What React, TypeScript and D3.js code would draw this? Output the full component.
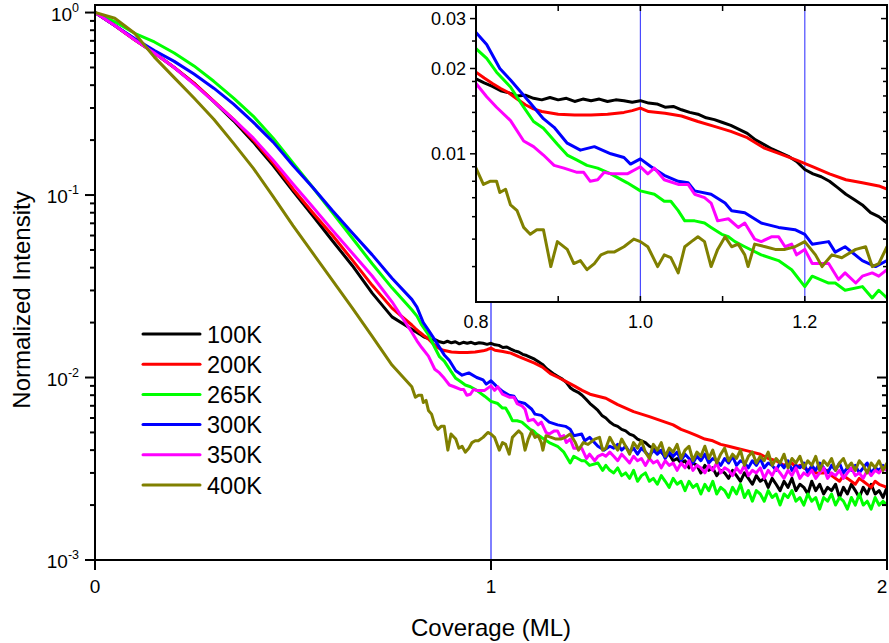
import React from 'react';
import * as d3 from 'd3';

type Pt = [number, number];

const seriesNames = ['100K', '200K', '265K', '300K', '350K', '400K'];
const seriesColors = ['#000000', '#ff0000', '#00ff00', '#0000ff', '#ff00ff', '#808000'];

const s100K: Pt[] = [
  [0, 1], [0.05, 0.85], [0.1, 0.71], [0.15, 0.6], [0.2, 0.5], [0.25, 0.41], [0.3, 0.325], [0.35, 0.255], [0.4, 0.195], [0.45, 0.145], [0.5, 0.105], [0.55, 0.077], [0.6, 0.056], [0.65, 0.041], [0.7, 0.029], [0.75, 0.0215],
  [0.8, 0.0184], [0.81, 0.0178], [0.82, 0.0173], [0.83, 0.0167], [0.84, 0.0164], [0.85, 0.016], [0.86, 0.0161], [0.87, 0.0157], [0.88, 0.0155], [0.89, 0.0158], [0.9, 0.0155], [0.91, 0.0157], [0.92, 0.0153], [0.93, 0.0156], [0.94, 0.0154], [0.95, 0.0156], [0.96, 0.0153], [0.97, 0.0155], [0.98, 0.0154], [0.99, 0.0152], [1.0, 0.0154], [1.01, 0.0151], [1.02, 0.015], [1.03, 0.0146], [1.04, 0.0147], [1.05, 0.0143], [1.06, 0.014], [1.07, 0.0138], [1.08, 0.0134], [1.09, 0.0132], [1.1, 0.0129], [1.11, 0.0126], [1.12, 0.0122], [1.13, 0.0118], [1.14, 0.0112], [1.15, 0.0108], [1.16, 0.0104], [1.17, 0.0101], [1.18, 0.0098], [1.19, 0.0094], [1.2, 0.0088], [1.21, 0.0085], [1.22, 0.0083], [1.23, 0.008], [1.24, 0.0076], [1.25, 0.0072], [1.26, 0.0069], [1.27, 0.0066], [1.28, 0.0062], [1.29, 0.006], [1.3, 0.0057],
  [1.31, 0.0055], [1.32, 0.0054], [1.33, 0.0052], [1.34, 0.0051], [1.35, 0.0049], [1.36, 0.0048], [1.37, 0.0046], [1.38, 0.0045], [1.39, 0.0044], [1.4, 0.0042], [1.41, 0.0041], [1.42, 0.004], [1.43, 0.0039], [1.44, 0.0037], [1.45, 0.0038], [1.46, 0.0035], [1.47, 0.0036], [1.48, 0.0034], [1.49, 0.0035], [1.5, 0.0032], [1.51, 0.0034], [1.52, 0.0033], [1.53, 0.003], [1.54, 0.0033], [1.55, 0.0031], [1.56, 0.0032], [1.57, 0.0029], [1.58, 0.0031], [1.59, 0.003], [1.6, 0.0028], [1.61, 0.0031], [1.62, 0.0029], [1.63, 0.0027], [1.64, 0.003], [1.65, 0.0028], [1.66, 0.0026], [1.67, 0.0029], [1.68, 0.0027], [1.69, 0.0028], [1.7, 0.0025], [1.71, 0.0028], [1.72, 0.0026], [1.73, 0.0024], [1.74, 0.0027], [1.75, 0.0025], [1.76, 0.0028], [1.77, 0.0024], [1.78, 0.0026], [1.79, 0.0025], [1.8, 0.0023], [1.81, 0.0027], [1.82, 0.0024], [1.83, 0.0026], [1.84, 0.0023], [1.85, 0.0025], [1.86, 0.0024], [1.87, 0.0026], [1.88, 0.0022], [1.89, 0.0025], [1.9, 0.0023], [1.91, 0.0026], [1.92, 0.0024], [1.93, 0.0022], [1.94, 0.0025], [1.95, 0.0023], [1.96, 0.0026], [1.97, 0.0023], [1.98, 0.0024], [1.99, 0.0022], [2.0, 0.0025],
];

const s200K: Pt[] = [
  [0, 1], [0.05, 0.85], [0.1, 0.71], [0.15, 0.6], [0.2, 0.5], [0.25, 0.41], [0.3, 0.327], [0.35, 0.26], [0.4, 0.2], [0.45, 0.15], [0.5, 0.108], [0.55, 0.08], [0.6, 0.06], [0.65, 0.044], [0.7, 0.032], [0.75, 0.024],
  [0.8, 0.0194], [0.81, 0.0185], [0.82, 0.0177], [0.83, 0.017], [0.84, 0.0164], [0.85, 0.0156], [0.86, 0.0149], [0.87, 0.0144], [0.88, 0.0141], [0.9, 0.0138], [0.92, 0.0137], [0.94, 0.0137], [0.96, 0.0138], [0.98, 0.014], [0.99, 0.0142], [1.0, 0.0145], [1.01, 0.0141], [1.03, 0.0139], [1.05, 0.0136], [1.07, 0.013], [1.09, 0.0125], [1.11, 0.012], [1.13, 0.0114], [1.15, 0.0105], [1.17, 0.01], [1.19, 0.0095], [1.21, 0.009], [1.23, 0.0085], [1.25, 0.0081], [1.27, 0.0079], [1.29, 0.0077], [1.3, 0.0075],
  [1.32, 0.0071], [1.34, 0.0068], [1.36, 0.0065], [1.38, 0.0063], [1.4, 0.0061], [1.42, 0.0059], [1.44, 0.0057], [1.46, 0.0055], [1.48, 0.0052], [1.5, 0.005], [1.52, 0.0048], [1.54, 0.0046], [1.56, 0.0045], [1.58, 0.0043], [1.6, 0.0042], [1.62, 0.0041], [1.64, 0.004], [1.66, 0.0039], [1.68, 0.0038], [1.7, 0.0036], [1.72, 0.0035], [1.74, 0.0033], [1.76, 0.0034], [1.77, 0.0032], [1.78, 0.0033], [1.8, 0.0031], [1.81, 0.0032], [1.82, 0.003], [1.84, 0.003], [1.85, 0.0031], [1.86, 0.0029], [1.88, 0.0027], [1.89, 0.0029], [1.9, 0.0028], [1.92, 0.0026], [1.93, 0.0028], [1.94, 0.0027], [1.96, 0.0025], [1.97, 0.0027], [1.98, 0.0026], [2.0, 0.0025],
];

const s265K: Pt[] = [
  [0, 1], [0.05, 0.89], [0.1, 0.77], [0.15, 0.69], [0.2, 0.6], [0.25, 0.51], [0.3, 0.42], [0.35, 0.34], [0.4, 0.27], [0.45, 0.205], [0.5, 0.15], [0.55, 0.11], [0.6, 0.08], [0.65, 0.058], [0.7, 0.042], [0.75, 0.031],
  [0.8, 0.0235], [0.813, 0.0217], [0.825, 0.0194], [0.842, 0.0172], [0.858, 0.0146], [0.87, 0.013], [0.882, 0.0123], [0.899, 0.0108], [0.911, 0.0099], [0.923, 0.0095], [0.935, 0.0091], [0.948, 0.0089], [0.964, 0.0085], [0.984, 0.0079], [1.0, 0.0074], [1.017, 0.0072], [1.029, 0.0068], [1.037, 0.0068], [1.046, 0.0063], [1.054, 0.0058], [1.066, 0.0058], [1.078, 0.0057], [1.086, 0.0055], [1.099, 0.0052], [1.107, 0.0051], [1.115, 0.0049], [1.127, 0.0047], [1.147, 0.0044], [1.168, 0.0042], [1.184, 0.0039], [1.2, 0.0034], [1.209, 0.0037], [1.229, 0.0035], [1.237, 0.0035], [1.249, 0.0033], [1.27, 0.0034], [1.282, 0.0031], [1.29, 0.0033], [1.3, 0.0031],
  [1.31, 0.003], [1.32, 0.0032], [1.33, 0.0029], [1.34, 0.003], [1.35, 0.0028], [1.36, 0.0031], [1.37, 0.0027], [1.38, 0.0029], [1.39, 0.003], [1.4, 0.0027], [1.41, 0.0028], [1.42, 0.0026], [1.43, 0.0029], [1.44, 0.0027], [1.45, 0.0025], [1.46, 0.0028], [1.47, 0.0026], [1.48, 0.0027], [1.49, 0.0024], [1.5, 0.0027], [1.51, 0.0025], [1.52, 0.0026], [1.53, 0.0023], [1.54, 0.0026], [1.55, 0.0024], [1.56, 0.0027], [1.57, 0.0023], [1.58, 0.0025], [1.59, 0.0024], [1.6, 0.0022], [1.61, 0.0025], [1.62, 0.0023], [1.63, 0.0026], [1.64, 0.0022], [1.65, 0.0024], [1.66, 0.0021], [1.67, 0.0024], [1.68, 0.0023], [1.69, 0.0021], [1.7, 0.0024], [1.71, 0.0022], [1.72, 0.0023], [1.73, 0.002], [1.74, 0.0023], [1.75, 0.0022], [1.76, 0.0024], [1.77, 0.0021], [1.78, 0.0022], [1.79, 0.002], [1.8, 0.0023], [1.81, 0.0021], [1.82, 0.0022], [1.83, 0.0019], [1.84, 0.0022], [1.85, 0.0021], [1.86, 0.0023], [1.87, 0.002], [1.88, 0.0022], [1.89, 0.0021], [1.9, 0.0019], [1.91, 0.0022], [1.92, 0.002], [1.93, 0.0023], [1.94, 0.002], [1.95, 0.0021], [1.96, 0.0019], [1.97, 0.0022], [1.98, 0.002], [1.99, 0.0021], [2.0, 0.002],
];

const s300K: Pt[] = [
  [0, 1], [0.05, 0.85], [0.1, 0.72], [0.15, 0.62], [0.2, 0.54], [0.25, 0.46], [0.3, 0.385], [0.35, 0.315], [0.4, 0.25], [0.45, 0.195], [0.5, 0.145], [0.55, 0.11], [0.6, 0.082], [0.65, 0.062], [0.7, 0.047], [0.75, 0.035],
  [0.8, 0.0268], [0.813, 0.0243], [0.829, 0.02], [0.842, 0.0182], [0.854, 0.0166], [0.866, 0.0151], [0.882, 0.0133], [0.895, 0.0124], [0.911, 0.0109], [0.927, 0.0103], [0.944, 0.0106], [0.964, 0.01], [0.98, 0.0097], [0.988, 0.0092], [1.0, 0.0096], [1.013, 0.009], [1.029, 0.0084], [1.046, 0.008], [1.058, 0.0079], [1.066, 0.0074], [1.086, 0.0072], [1.103, 0.0067], [1.111, 0.0063], [1.127, 0.0062], [1.147, 0.0057], [1.168, 0.0055], [1.188, 0.0054], [1.2, 0.0052], [1.209, 0.0048], [1.229, 0.0049], [1.237, 0.0045], [1.249, 0.0047], [1.27, 0.0042], [1.286, 0.004], [1.3, 0.0042],
  [1.31, 0.0041], [1.32, 0.0043], [1.33, 0.004], [1.34, 0.0042], [1.35, 0.0039], [1.36, 0.0041], [1.37, 0.0038], [1.38, 0.0041], [1.39, 0.0039], [1.4, 0.0037], [1.41, 0.004], [1.42, 0.0038], [1.43, 0.004], [1.44, 0.0036], [1.45, 0.0039], [1.46, 0.0037], [1.47, 0.0039], [1.48, 0.0035], [1.49, 0.0038], [1.5, 0.0036], [1.51, 0.0034], [1.52, 0.0037], [1.53, 0.0035], [1.54, 0.0038], [1.55, 0.0034], [1.56, 0.0036], [1.57, 0.0035], [1.58, 0.0033], [1.59, 0.0036], [1.6, 0.0034], [1.61, 0.0037], [1.62, 0.0033], [1.63, 0.0035], [1.64, 0.0034], [1.65, 0.0032], [1.66, 0.0035], [1.67, 0.0033], [1.68, 0.0036], [1.69, 0.0032], [1.7, 0.0034], [1.71, 0.0033], [1.72, 0.0031], [1.73, 0.0034], [1.74, 0.0032], [1.75, 0.0035], [1.76, 0.0031], [1.77, 0.0033], [1.78, 0.0032], [1.79, 0.0034], [1.8, 0.003], [1.81, 0.0033], [1.82, 0.0031], [1.83, 0.0034], [1.84, 0.0032], [1.85, 0.003], [1.86, 0.0033], [1.87, 0.0031], [1.88, 0.0034], [1.89, 0.003], [1.9, 0.0032], [1.91, 0.0031], [1.92, 0.0033], [1.93, 0.003], [1.94, 0.0032], [1.95, 0.0034], [1.96, 0.003], [1.97, 0.0032], [1.98, 0.0031], [1.99, 0.0033], [2.0, 0.0031],
];

const s350K: Pt[] = [
  [0, 1], [0.05, 0.85], [0.1, 0.71], [0.15, 0.6], [0.2, 0.5], [0.25, 0.405], [0.3, 0.325], [0.35, 0.26], [0.4, 0.205], [0.45, 0.155], [0.5, 0.115], [0.55, 0.086], [0.6, 0.064], [0.65, 0.048], [0.7, 0.036], [0.75, 0.026],
  [0.8, 0.0177], [0.813, 0.0159], [0.825, 0.0146], [0.842, 0.0131], [0.858, 0.0111], [0.87, 0.0106], [0.882, 0.0099], [0.895, 0.0091], [0.907, 0.0089], [0.923, 0.0086], [0.931, 0.0086], [0.939, 0.008], [0.948, 0.0081], [0.956, 0.0086], [0.964, 0.0085], [0.984, 0.0085], [1.0, 0.009], [1.009, 0.0085], [1.017, 0.0089], [1.029, 0.0081], [1.046, 0.0078], [1.058, 0.0078], [1.066, 0.0072], [1.078, 0.007], [1.086, 0.0067], [1.094, 0.0058], [1.107, 0.0059], [1.119, 0.0055], [1.127, 0.0057], [1.139, 0.005], [1.147, 0.0049], [1.16, 0.0051], [1.168, 0.0051], [1.176, 0.0047], [1.184, 0.0048], [1.19, 0.0044], [1.2, 0.0046], [1.209, 0.0041], [1.221, 0.0041], [1.229, 0.0041], [1.241, 0.0036], [1.249, 0.0038], [1.262, 0.0035], [1.27, 0.0037], [1.282, 0.0038], [1.29, 0.0037], [1.3, 0.0039],
  [1.31, 0.0037], [1.32, 0.0035], [1.33, 0.0038], [1.34, 0.0036], [1.35, 0.0034], [1.36, 0.0037], [1.37, 0.0035], [1.38, 0.0036], [1.39, 0.0033], [1.4, 0.0036], [1.41, 0.0034], [1.42, 0.0035], [1.43, 0.0032], [1.44, 0.0035], [1.45, 0.0033], [1.46, 0.0034], [1.47, 0.0031], [1.48, 0.0034], [1.49, 0.0032], [1.5, 0.0035], [1.51, 0.0031], [1.52, 0.0033], [1.53, 0.0032], [1.54, 0.003], [1.55, 0.0033], [1.56, 0.0031], [1.57, 0.0034], [1.58, 0.003], [1.59, 0.0032], [1.6, 0.0031], [1.61, 0.0029], [1.62, 0.0032], [1.63, 0.003], [1.64, 0.0033], [1.65, 0.0029], [1.66, 0.0031], [1.67, 0.003], [1.68, 0.0032], [1.69, 0.0028], [1.7, 0.0031], [1.71, 0.0029], [1.72, 0.0032], [1.73, 0.003], [1.74, 0.0028], [1.75, 0.0031], [1.76, 0.0029], [1.77, 0.0032], [1.78, 0.0028], [1.79, 0.003], [1.8, 0.0029], [1.81, 0.0031], [1.82, 0.0028], [1.83, 0.003], [1.84, 0.0032], [1.85, 0.0028], [1.86, 0.003], [1.87, 0.0029], [1.88, 0.0031], [1.89, 0.0028], [1.9, 0.003], [1.91, 0.0032], [1.92, 0.0029], [1.93, 0.003], [1.94, 0.0028], [1.95, 0.0031], [1.96, 0.0029], [1.97, 0.0031], [1.98, 0.003], [1.99, 0.0032], [2.0, 0.0031],
];

const s400K: Pt[] = [
  [0, 1], [0.05, 0.93], [0.1, 0.77], [0.15, 0.57], [0.2, 0.44], [0.25, 0.34], [0.3, 0.26], [0.35, 0.192], [0.4, 0.14], [0.45, 0.098], [0.5, 0.068], [0.55, 0.048], [0.6, 0.034], [0.65, 0.024], [0.7, 0.0168], [0.75, 0.0117],
  [0.8, 0.0089], [0.809, 0.0078], [0.817, 0.008], [0.825, 0.008], [0.829, 0.0073], [0.836, 0.0075], [0.842, 0.0066], [0.85, 0.0063], [0.858, 0.0055], [0.866, 0.0052], [0.874, 0.0054], [0.882, 0.0054], [0.891, 0.004], [0.899, 0.0049], [0.911, 0.0046], [0.919, 0.0041], [0.927, 0.0042], [0.935, 0.0039], [0.944, 0.0041], [0.952, 0.0044], [0.96, 0.0045], [0.968, 0.0045], [0.98, 0.0047], [0.992, 0.005], [1.0, 0.0049], [1.009, 0.0047], [1.021, 0.004], [1.029, 0.0044], [1.037, 0.0043], [1.046, 0.0038], [1.054, 0.0047], [1.062, 0.0049], [1.07, 0.0051], [1.078, 0.0049], [1.086, 0.004], [1.094, 0.0046], [1.103, 0.0051], [1.111, 0.0047], [1.119, 0.0048], [1.127, 0.0044], [1.131, 0.004], [1.139, 0.0048], [1.152, 0.0047], [1.164, 0.0046], [1.176, 0.0046], [1.188, 0.0047], [1.2, 0.0049], [1.213, 0.0044], [1.221, 0.004], [1.233, 0.0044], [1.245, 0.0043], [1.262, 0.0046], [1.274, 0.0047], [1.282, 0.004], [1.29, 0.0041], [1.3, 0.0047],
  [1.31, 0.0043], [1.32, 0.004], [1.33, 0.0046], [1.34, 0.0042], [1.35, 0.0038], [1.36, 0.0044], [1.37, 0.0041], [1.38, 0.0045], [1.39, 0.0039], [1.4, 0.0036], [1.41, 0.0043], [1.42, 0.004], [1.43, 0.0044], [1.44, 0.0037], [1.45, 0.0041], [1.46, 0.0039], [1.47, 0.0043], [1.48, 0.0036], [1.49, 0.004], [1.5, 0.0042], [1.51, 0.0035], [1.52, 0.0039], [1.53, 0.0037], [1.54, 0.0042], [1.55, 0.0036], [1.56, 0.004], [1.57, 0.0034], [1.58, 0.0038], [1.59, 0.0041], [1.6, 0.0035], [1.61, 0.0038], [1.62, 0.0036], [1.63, 0.004], [1.64, 0.0033], [1.65, 0.0037], [1.66, 0.0039], [1.67, 0.0034], [1.68, 0.0037], [1.69, 0.0035], [1.7, 0.0039], [1.71, 0.0033], [1.72, 0.0036], [1.73, 0.0034], [1.74, 0.0038], [1.75, 0.0032], [1.76, 0.0036], [1.77, 0.0034], [1.78, 0.0037], [1.79, 0.0032], [1.8, 0.0035], [1.81, 0.0033], [1.82, 0.0037], [1.83, 0.0031], [1.84, 0.0035], [1.85, 0.0033], [1.86, 0.0036], [1.87, 0.0031], [1.88, 0.0034], [1.89, 0.0036], [1.9, 0.0032], [1.91, 0.0034], [1.92, 0.0031], [1.93, 0.0035], [1.94, 0.0033], [1.95, 0.003], [1.96, 0.0034], [1.97, 0.0032], [1.98, 0.0035], [1.99, 0.0031], [2.0, 0.0034],
];

const seriesData = [s100K, s200K, s265K, s300K, s350K, s400K];

const mainXTicks = [0, 1, 2];
const mainYMajor = [1, 0.1, 0.01, 0.001];
const mainYExp = ['0', '-1', '-2', '-3'];
const mainRefLines = [1];
const insetXTicks = [0.8, 0.9, 1.0, 1.1, 1.2, 1.3];
const insetXLabels = [0.8, 1.0, 1.2];
const insetYMajor = [0.01, 0.02, 0.03];
const insetYMinor = [0.004, 0.005, 0.006, 0.007, 0.008, 0.009, 0.012, 0.014, 0.016, 0.018, 0.025];
const insetRefLines = [1.0, 1.2];

const FONT = "'Liberation Sans', Arial, Helvetica, sans-serif";

export default function App() {
  const L = 95, R = 887, T = 5, B = 560;
  const x = d3.scaleLinear().domain([0, 2]).range([L, R]);
  const y = d3.scaleLog().domain([0.001, 1.1]).range([B, T]);
  const IL = 476, IR = 887, IT = 5, IB = 302;
  const ix = d3.scaleLinear().domain([0.8, 1.3]).range([IL, IR]);
  const iy = d3.scaleLog().domain([0.003, 0.0335]).range([IB, IT]);

  const mainLine = d3.line<Pt>().x(d => x(d[0])).y(d => y(d[1]));
  const insetLine = d3.line<Pt>().x(d => ix(d[0])).y(d => iy(d[1]));

  const minorMain: number[] = [];
  [0.001, 0.01, 0.1].forEach(dec => { for (let m = 2; m <= 9; m++) minorMain.push(dec * m); });

  const legendY0 = 334, legendDY = 30.2;

  return (
    <svg width={889} height={643} style={{ position: 'absolute', left: 0, top: 0, background: '#fff' }} fontFamily={FONT}>
      <defs>
        <clipPath id="mainClip"><rect x={L} y={T} width={R - L} height={B - T} /></clipPath>
        <clipPath id="insetClip"><rect x={IL} y={IT} width={IR - IL} height={IB - IT} /></clipPath>
      </defs>
      <rect x={0} y={0} width={889} height={643} fill="#fff" />

      {mainRefLines.map(v => (
        <line key={v} x1={x(v)} x2={x(v)} y1={T} y2={B} stroke="#2a2aff" strokeWidth={1.2} />
      ))}

      <g clipPath="url(#mainClip)">
        {seriesData.map((d, i) => (
          <path key={i} d={mainLine(d) || ''} fill="none" stroke={seriesColors[i]} strokeWidth={3} strokeLinejoin="round" />
        ))}
      </g>

      <rect x={L} y={T} width={R - L} height={B - T} fill="none" stroke="#000" strokeWidth={2} />

      {mainYMajor.map((v, i) => (
        <g key={'ym' + i}>
          <line x1={L - 10} x2={L} y1={y(v)} y2={y(v)} stroke="#000" strokeWidth={2} />
          <line x1={R - 10} x2={R} y1={y(v)} y2={y(v)} stroke="#000" strokeWidth={2} />
          <text x={79} y={y(v) + 8} fontSize={19} textAnchor="end" fill="#000">
            10<tspan dy={-9} fontSize={12.5}>{mainYExp[i]}</tspan>
          </text>
        </g>
      ))}
      {minorMain.map((v, i) => (
        <g key={'yn' + i}>
          <line x1={L - 5} x2={L} y1={y(v)} y2={y(v)} stroke="#000" strokeWidth={2} />
          <line x1={R - 5} x2={R} y1={y(v)} y2={y(v)} stroke="#000" strokeWidth={2} />
        </g>
      ))}

      {mainXTicks.map(v => (
        <g key={'x' + v}>
          <line x1={x(v)} x2={x(v)} y1={B} y2={B + 10} stroke="#000" strokeWidth={2} />
          <text x={Math.min(x(v), 882)} y={593} fontSize={19} textAnchor="middle" fill="#000">{String(v)}</text>
        </g>
      ))}

      {seriesNames.map((n, i) => (
        <g key={n}>
          <line x1={143} x2={200} y1={legendY0 + i * legendDY} y2={legendY0 + i * legendDY} stroke={seriesColors[i]} strokeWidth={3} strokeLinecap="round" />
          <text x={207} y={legendY0 + i * legendDY + 8.5} fontSize={23.5} fill="#000">{n}</text>
        </g>
      ))}

      <rect x={IL} y={IT} width={IR - IL} height={IB - IT} fill="#fff" />
      {insetRefLines.map(v => (
        <line key={'ir' + v} x1={ix(v)} x2={ix(v)} y1={IT} y2={IB} stroke="#4a4aff" strokeWidth={1.2} />
      ))}
      <g clipPath="url(#insetClip)">
        {seriesData.map((d, i) => (
          <path key={i} d={insetLine(d) || ''} fill="none" stroke={seriesColors[i]} strokeWidth={3} strokeLinejoin="round" />
        ))}
      </g>
      <rect x={IL} y={IT} width={IR - IL} height={IB - IT} fill="none" stroke="#000" strokeWidth={2} />
      {insetXTicks.map(v => (
        <g key={'ixt' + v}>
          <line x1={ix(v)} x2={ix(v)} y1={IB} y2={IB - 6} stroke="#000" strokeWidth={1.5} />
          <line x1={ix(v)} x2={ix(v)} y1={IT} y2={IT + 6} stroke="#000" strokeWidth={1.5} />
        </g>
      ))}
      {insetXLabels.map(v => (
        <text key={'ixl' + v} x={ix(v)} y={328} fontSize={18} textAnchor="middle" fill="#000">{v.toFixed(1)}</text>
      ))}
      {insetYMajor.map(v => (
        <g key={'iym' + v}>
          <line x1={IL - 6} x2={IL} y1={iy(v)} y2={iy(v)} stroke="#000" strokeWidth={1.5} />
          <line x1={IR - 6} x2={IR} y1={iy(v)} y2={iy(v)} stroke="#000" strokeWidth={1.5} />
          <text x={466} y={iy(v) + 6.5} fontSize={18} textAnchor="end" fill="#000">{String(v)}</text>
        </g>
      ))}
      {insetYMinor.map(v => (
        <g key={'iyn' + v}>
          <line x1={IL - 4} x2={IL} y1={iy(v)} y2={iy(v)} stroke="#000" strokeWidth={1.5} />
          <line x1={IR - 4} x2={IR} y1={iy(v)} y2={iy(v)} stroke="#000" strokeWidth={1.5} />
        </g>
      ))}

      <text x={491} y={636} fontSize={24} textAnchor="middle" fill="#000">Coverage (ML)</text>
      <text transform="translate(30,300) rotate(-90)" fontSize={24} textAnchor="middle" fill="#000">Normalized Intensity</text>
    </svg>
  );
}
